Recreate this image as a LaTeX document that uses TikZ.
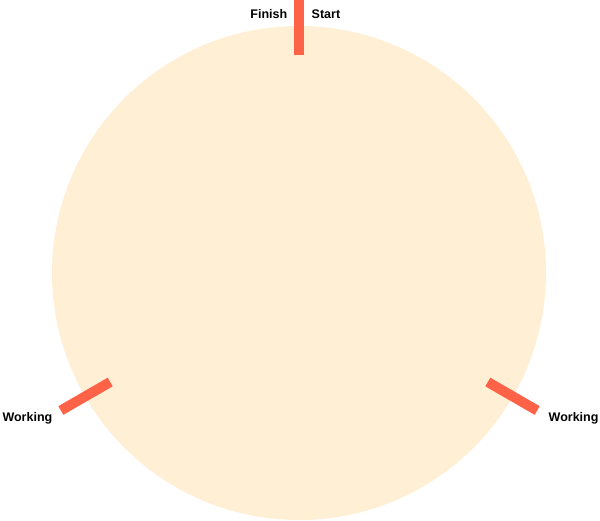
\documentclass[tikz,border=0pt]{standalone}
\usepackage{fontspec}
\setsansfont{Liberation Sans}
\usetikzlibrary{positioning,calc}

\definecolor{papayawhip}{HTML}{FFEFD5}
\definecolor{tomato}{HTML}{FF6347}

\begin{document}
\begin{tikzpicture}[
    x=1pt, y=-1pt,
    font=\sffamily\bfseries\fontsize{12.5}{14}\selectfont,
    dial_disc/.style={circle, fill=papayawhip, minimum size=494pt, inner sep=0pt},
    tick_mark/.style={draw=tomato, line width=10pt},
    tick_label/.style={inner sep=0pt, text=black}
]
\useasboundingbox (0,0) rectangle (600,521);

% DIAL
\node[dial_disc] (dial) at (299,273) {};

% TICK MARKS
\coordinate (top_in) at ([shift={(90:218pt)}]dial.center);
\coordinate (top_out) at ([shift={(90:275pt)}]dial.center);
\coordinate (right_in) at ([shift={(-30:218pt)}]dial.center);
\coordinate (right_out) at ([shift={(-30:275pt)}]dial.center);
\coordinate (left_in) at ([shift={(210:218pt)}]dial.center);
\coordinate (left_out) at ([shift={(210:275pt)}]dial.center);

\draw[tick_mark] (top_in) -- (top_out);
\draw[tick_mark] (right_in) -- (right_out);
\draw[tick_mark] (left_in) -- (left_out);

% LABELS
\node[tick_label, anchor=base east] (finish) at (287.5,18.5) {Finish};
\node[tick_label, anchor=base west] (start) at (311.5,18.5) {Start};
\node[tick_label, anchor=base east] (working_left) at (52.5,421.5) {Working};
\node[tick_label, anchor=base west] (working_right) at (548.5,421.5) {Working};

\end{tikzpicture}
\end{document}
